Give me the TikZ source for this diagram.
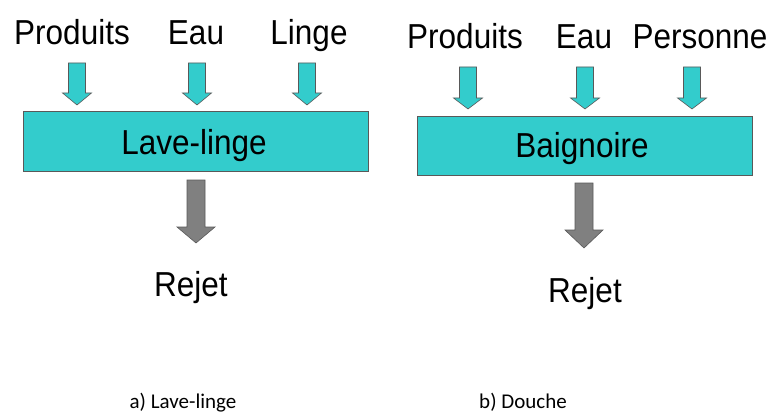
\documentclass[tikz,border=0pt]{standalone}
\usepackage{graphicx}
\usepackage{fontspec}
\setmainfont{Liberation Sans}
\newfontfamily\captionfont{Carlito}
\definecolor{boxcyan}{HTML}{33CCCC}
\definecolor{rimgray}{HTML}{595959}
\definecolor{outgray}{HTML}{808080}
\newcommand\tallword[1]{\scalebox{1}[1.1]{#1}}
\tikzset{
  inflow/.style={fill=boxcyan,draw=rimgray,line width=0.6pt},
  outflow/.style={fill=outgray,draw=rimgray,line width=0.6pt},
  unitbox/.style={fill=boxcyan,draw=rimgray,line width=0.8pt},
  biglabel/.style={font=\fontsize{31.5}{36}\selectfont,anchor=base,inner sep=0pt},
  caption/.style={font=\captionfont\fontsize{21}{24}\selectfont,anchor=base,inner sep=0pt}
}
\begin{document}
\begin{tikzpicture}[x=1pt,y=-1pt]
\useasboundingbox (0,0) rectangle (770,414);
\begin{scope}
\foreach \ax/\tx/\t in {77/72/Produits,197/196/Eau,307/309/Linge}
{
\node[biglabel] (in-a-\t) at (\tx,45) {\tallword{\t}};
\draw[inflow] (\ax-8.5,63) -- (\ax+8.5,63) -- (\ax+8.5,93) -- (\ax+14.5,93) -- (\ax,105) -- (\ax-14.5,93) -- (\ax-8.5,93) -- cycle;
}
\draw[unitbox] (23,111) rectangle (368,171);
\node[biglabel] (unit-a) at (194,155) {\tallword{Lave-linge}};
\draw[outflow] (187,180) -- (205,180) -- (205,227) -- (215,227) -- (196,243) -- (177,227) -- (187,227) -- cycle;
\node[biglabel] (out-a) at (191,296) {\tallword{Rejet}};
\node[caption] (cap-a) at (183,408) {a) Lave-linge};
\end{scope}
\begin{scope}[xshift=394pt,yshift=-4pt]
\foreach \ax/\tx/\t in {74/71/Produits,191/190/Eau,298/306/Personne}
{
\node[biglabel] (in-b-\t) at (\tx,45) {\tallword{\t}};
\draw[inflow] (\ax-8.5,63) -- (\ax+8.5,63) -- (\ax+8.5,94) -- (\ax+14.5,94) -- (\ax,105) -- (\ax-14.5,94) -- (\ax-8.5,94) -- cycle;
}
\draw[unitbox] (23,112) rectangle (358,171);
\node[biglabel] (unit-b) at (188,154) {\tallword{Baignoire}};
\draw[outflow] (181,179) -- (199,179) -- (199,226) -- (209,226) -- (190,244) -- (171,226) -- (181,226) -- cycle;
\node[biglabel] (out-b) at (191,298) {\tallword{Rejet}};
\end{scope}
\node[caption] (cap-b) at (523,408) {b) Douche};
\end{tikzpicture}
\end{document}
